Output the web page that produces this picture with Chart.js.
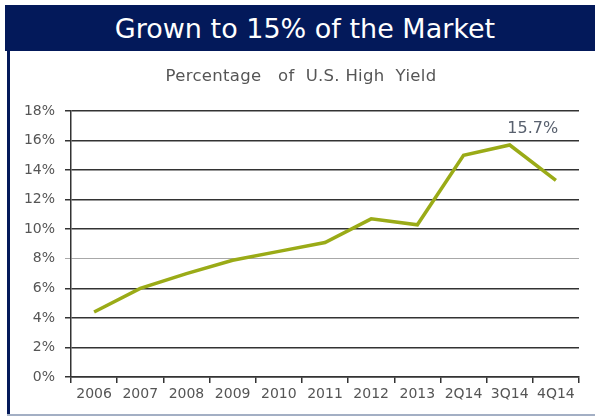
<!DOCTYPE html>
<html>
<head>
<meta charset="utf-8">
<script src="https://cdn.jsdelivr.net/npm/chart.js@4.4.1/dist/chart.umd.min.js"></script>
<style>
    html, body { margin: 0; padding: 0; background: #fff; }
    #wrap { position: relative; width: 595px; height: 418px; overflow: hidden; }
    #header {
        position: absolute; left: 5px; top: 5px; width: 590px; height: 46px;
        background: #03195a; color: #fff; box-sizing: border-box; padding-left: 10px;
        font: 27px "DejaVu Sans", Verdana, sans-serif;
        display: flex; align-items: center; justify-content: center;
    }
    #subtitle {
        position: absolute; left: 0; top: 66px; width: 602px; height: 20px; line-height: 20px;
        text-align: center; white-space: pre; color: #555555; letter-spacing: 0.3px;
        font: 16.5px "DejaVu Sans", Verdana, sans-serif; z-index: 2;
    }
    #leftLine { position: absolute; left: 7px; top: 51px; width: 3px; height: 364px; background: #03195a; }
    #bottomLine { position: absolute; left: 7px; top: 414px; width: 588px; height: 2px; background: #a3afc4; }
    #chartBox { position: absolute; left: 0; top: 0; width: 595px; height: 418px; }
</style>
</head>
<body>
<div id="wrap">
    <div id="header">Grown to 15% of the Market</div>
    <div id="subtitle">Percentage   of  U.S. High  Yield</div>
    <div id="leftLine"></div>
    <div id="bottomLine"></div>
    <div id="chartBox"><canvas id="chart" width="595" height="418"></canvas></div>
</div>
<script>
// chart values
var categories = ['2006', '2007', '2008', '2009', '2010', '2011', '2012', '2013', '2Q14', '3Q14', '4Q14'];
var shareValues = [4.4, 6.0, 7.0, 7.9, 8.5, 9.1, 10.7, 10.3, 15.0, 15.7, 13.3];
var yTicks = [0, 2, 4, 6, 8, 10, 12, 14, 16, 18];
var calloutIndex = 9;
var calloutText = '15.7%';

var textGray = '#555555';

// draws the "15.7%" callout next to the peak point
var calloutPlugin = {
    id: 'callout',
    afterDatasetsDraw: function (chart) {
        var meta = chart.getDatasetMeta(0);
        var pt = meta.data[calloutIndex];
        if (!pt) return;
        var ctx = chart.ctx;
        ctx.save();
        ctx.font = '16px "DejaVu Sans", Verdana, sans-serif';
        ctx.fillStyle = '#58606e';
        ctx.textAlign = 'center';
        ctx.textBaseline = 'middle';
        ctx.fillText(calloutText, pt.x + 23, pt.y - 16);
        ctx.restore();
    }
};

var ctx = document.getElementById('chart').getContext('2d');
var myChart = new Chart(ctx, {
    type: 'line',
    data: {
        labels: categories,
        datasets: [{
            data: shareValues,
            borderColor: '#9aab17',
            borderWidth: 3.5,
            pointRadius: 0,
            tension: 0,
            fill: false
        }]
    },
    options: {
        responsive: false,
        animation: false,
        layout: { padding: { left: 0, right: 16, top: 111, bottom: 0 } },
        plugins: {
            legend: { display: false },
            tooltip: { enabled: false },
            title: { display: false }
        },
        scales: {
            x: {
                offset: true,
                afterFit: function (scale) { scale.height = 41; },
                grid: {
                    offset: true,
                    drawOnChartArea: false,
                    drawTicks: true,
                    tickLength: 6,
                    color: '#333333',
                    lineWidth: 1.5
                },
                border: { color: '#333333', width: 1.5 },
                ticks: {
                    color: textGray,
                    padding: 3,
                    maxRotation: 0,
                    autoSkip: false,
                    font: { family: '"DejaVu Sans", Verdana, sans-serif', size: 14 }
                }
            },
            y: {
                min: 0,
                max: 18,
                afterFit: function (scale) { scale.width = 71; },
                afterBuildTicks: function (scale) {
                    scale.ticks = yTicks.map(function (v) { return { value: v }; });
                },
                grid: {
                    drawTicks: true,
                    tickLength: 6,
                    color: function (c) { return c.tick && c.tick.value === 8 ? '#a8a8a8' : '#333333'; },
                    lineWidth: function (c) { return c.tick && c.tick.value === 8 ? 1 : 1.5; }
                },
                border: { color: '#333333', width: 1.5 },
                ticks: {
                    color: textGray,
                    padding: 10,
                    font: { family: '"DejaVu Sans", Verdana, sans-serif', size: 14 },
                    callback: function (v) { return v + '%'; }
                }
            }
        }
    },
    plugins: [calloutPlugin]
});
</script>
</body>
</html>
